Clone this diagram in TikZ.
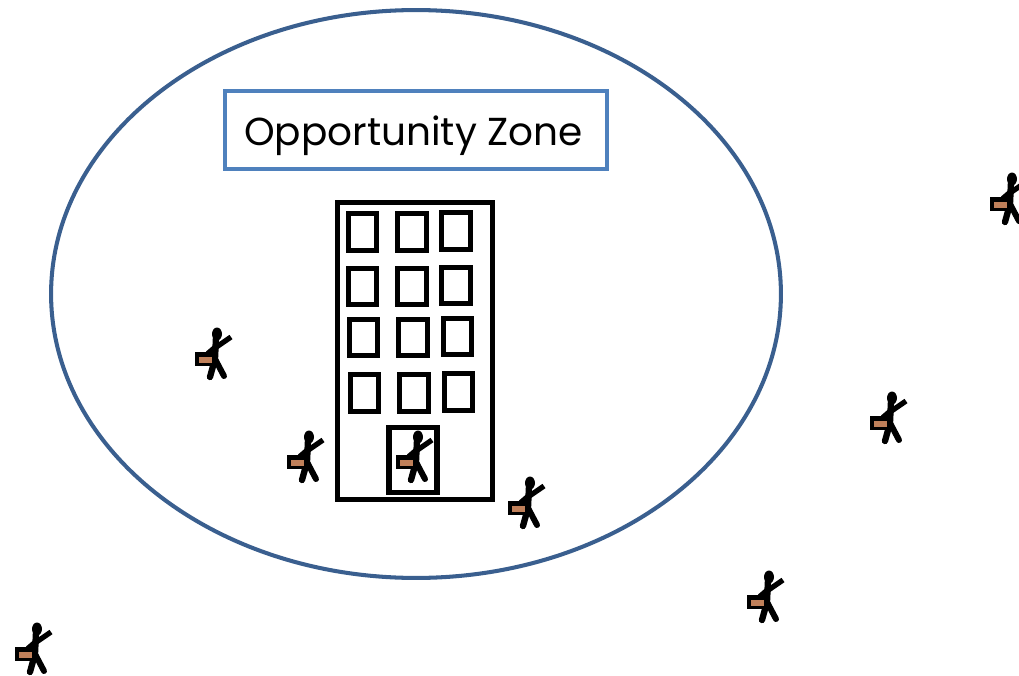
\documentclass[tikz,border=0pt]{standalone}
\usepackage{tikz}
\usepackage{xcolor}
\usepackage{fontspec}
\setmainfont{Poppins}
\usetikzlibrary{shapes.geometric}

\definecolor{zoneline}{HTML}{3A5F8F}
\definecolor{labelline}{HTML}{4F81BD}
\definecolor{casefill}{HTML}{C0805A}

\tikzset{
    zone/.style={draw=zoneline, ellipse, line width=2.3pt, minimum width=14.6cm, minimum height=11.36cm, inner sep=0pt},
    zonelabel/.style={draw=labelline, line width=2.4pt, minimum width=7.64cm, minimum height=1.56cm, text height=.64cm, text depth=0pt, font=\fontsize{22.2pt}{26pt}\selectfont},
    tower/.style={draw=black, line width=3pt, minimum width=3.1cm, minimum height=5.94cm, inner sep=0pt},
    towerwindow/.style={draw=black, line width=2.9pt, minimum width=.57cm, minimum height=.73cm, inner sep=0pt},
    door/.style={draw=black, line width=2.9pt, minimum width=.96cm, minimum height=1.3cm, inner sep=0pt},
    walker/.pic={
        \fill[black] (0,0) ellipse (5 and 6.5);
        \draw[black, line width=3.6pt, line cap=round, line join=round] (-1,3) -- (-2,25) -- (-7,43);
        \draw[black, line width=3.4pt, line cap=round] (-2,25) -- (7,42);
        \draw[black, line width=3pt] (-2,14) -- (14,3);
        \draw[black, line width=3.6pt] (-2,14) -- (-9,20);
        \fill[black] (-22,18) rectangle (-5,32);
        \fill[casefill] (-18,23) rectangle (-5,29);
    }
}

\begin{document}
\begin{tikzpicture}[x=0.02cm, y=-0.02cm]
    \useasboundingbox (0,0) rectangle (1019,676);

    % Nodes
    \node[zone] (zone) at (416,294) {};
    \node[zonelabel] (zone_label) at (416,130) {Opportunity Zone\rule{.1cm}{0pt}};
    \node[tower] (building) at (415,351) {};
    \node[door] (entrance) at (413,460) {};

    % Windows
    \foreach \col/\row/\wx/\wy in {
        1/1/362.5/232, 2/1/412/232, 3/1/456/231,
        1/2/362.5/286.5, 2/2/412/286.5, 3/2/456/285.5,
        1/3/363.5/337.5, 2/3/413/337.5, 3/3/457.5/336.5,
        1/4/364.5/393, 2/4/414/393, 3/4/458.5/392}
        \node[towerwindow] (window_\col_\row) at (\wx,\wy) {};

    % Walkers
    \foreach \name/\wx/\wy in {
        a/217/334, b/1012/179, c/892/398, d/309/437,
        e/418/437, f/530/483, g/769/577, h/37/629}
        \pic (walker_\name) at (\wx,\wy) {walker};
\end{tikzpicture}
\end{document}
